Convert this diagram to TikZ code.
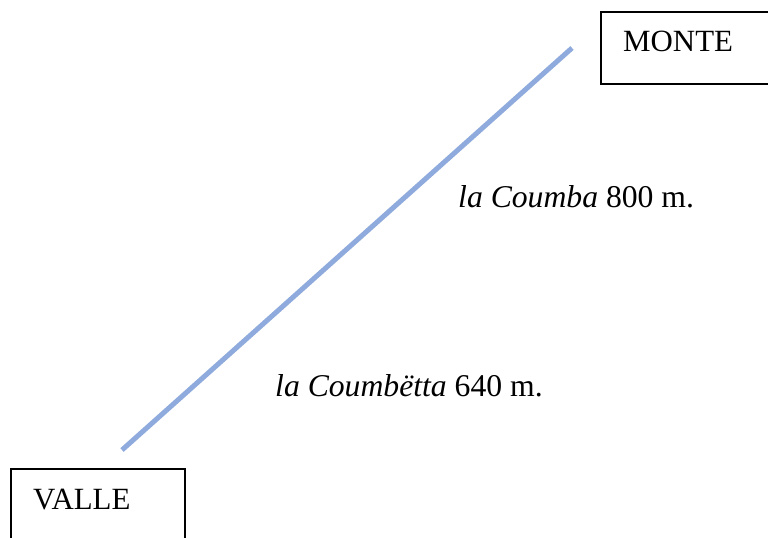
\documentclass[tikz,border=0pt]{standalone}
\usepackage{fontspec}
\setmainfont{Liberation Serif}
\definecolor{linea}{RGB}{143,170,220}
\begin{document}
\begin{tikzpicture}[x=1bp,y=-1bp,
  lbl/.style={anchor=base west,inner sep=0pt,font=\fontsize{31}{37}\selectfont},
  plbl/.style={anchor=base west,inner sep=0pt,font=\fontsize{31.8}{38}\selectfont},
  boxline/.style={draw=black,line width=1.6bp}]
\useasboundingbox (0,0) rectangle (768,538);
\draw[boxline] (772,12) -- (601,12) -- (601,84) -- (772,84);
\draw[boxline] (11,542) -- (11,469) -- (185,469) -- (185,542);
\node[lbl] (monte) at (623,52) {MONTE};
\node[lbl] (valle) at (33,509) {VALLE};
\coordinate (top) at (572,48);
\coordinate (bot) at (122,450);
\draw[linea,line width=5bp] (bot) -- (top);
\node[plbl] (coumba) at (458,208) {\textit{la Coumba} 800 m.};
\node[plbl] (coumbetta) at (275,396) {\textit{la Coumbëtta} 640 m.};
\end{tikzpicture}
\end{document}
